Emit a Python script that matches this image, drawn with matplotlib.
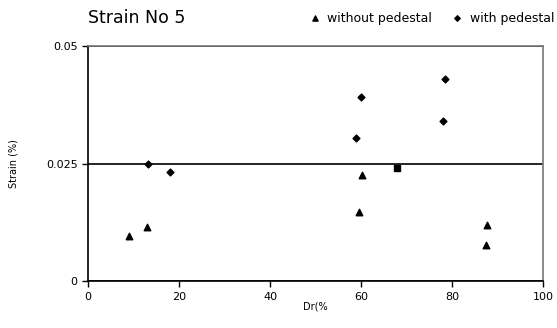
import matplotlib
matplotlib.use("Agg")
import matplotlib.pyplot as plt

# data
without_x = [9, 13, 60.2, 59.6, 87.7, 87.5]
without_y = [0.0096, 0.0115, 0.0226, 0.0147, 0.0119, 0.0077]
with_x = [13.2, 18, 60, 58.9, 78.5, 78]
with_y = [0.0249, 0.0232, 0.0391, 0.0304, 0.043, 0.034]
other_x = [67.9]
other_y = [0.024]
xticks = [0, 20, 40, 60, 80, 100]
yticks = [0, 0.025, 0.05]
ytick_labels = ["0", "0.025", "0.05"]

plt.rcParams['font.family'] = ['DejaVu Sans']
fig = plt.figure(figsize=(5.57, 3.28), dpi=100)
ax = fig.add_axes([0.158, 0.143, 0.817, 0.717])

ax.scatter(without_x, without_y, marker='^', s=22, color='black', label='without pedestal', zorder=3)
ax.scatter(with_x, with_y, marker='D', s=12, color='black', label='with pedestal', zorder=3)
ax.scatter(other_x, other_y, marker='s', s=18, color='black', zorder=3)

ax.set_xlim(0, 100)
ax.set_ylim(0, 0.05)
ax.set_xticks(xticks)
ax.set_yticks(yticks)
ax.set_yticklabels(ytick_labels)
ax.tick_params(labelsize=8, length=4, width=1, direction='out')
ax.yaxis.grid(True, color='black', linewidth=1.2)
ax.set_axisbelow(True)
for s in ax.spines.values():
    s.set_linewidth(1.2)
ax.spines['top'].set_color('#777777')
ax.spines['right'].set_color('#777777')

ax.set_xlabel('Dr(%', fontsize=7, labelpad=0)
ax.set_ylabel('Strain (%)', fontsize=7, labelpad=20)

fig.text(0.158, 0.945, 'Strain No 5', fontsize=12.5, va='center', ha='left')
fig.legend(loc='center right', bbox_to_anchor=(0.995, 0.945), ncol=2, frameon=False,
           fontsize=9, handletextpad=0.0, columnspacing=1.0, markerscale=0.8,
           borderaxespad=0, borderpad=0)

fig.savefig('out.png', dpi=100)
